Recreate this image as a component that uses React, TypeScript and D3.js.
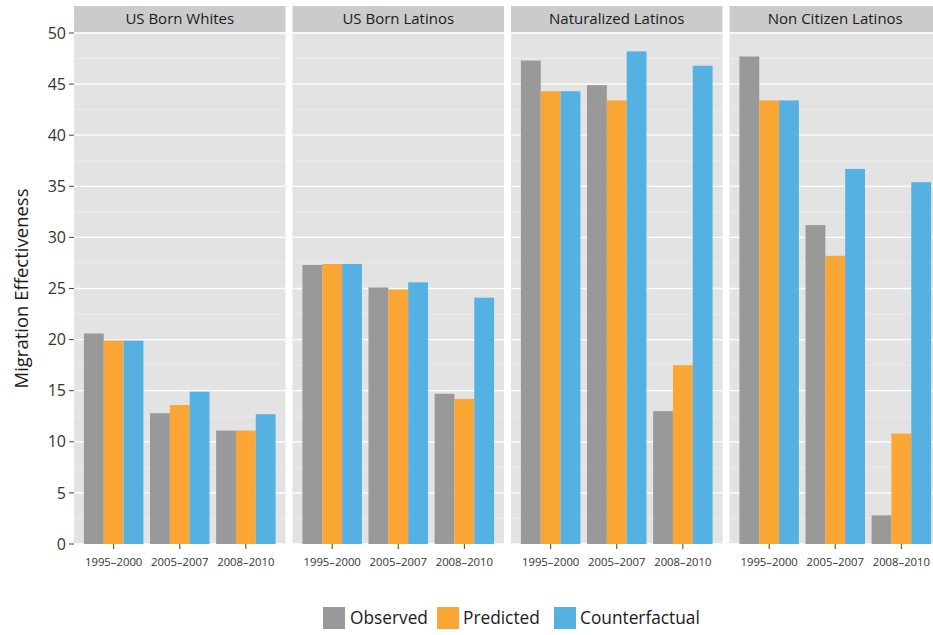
import React from "react";
import * as d3 from "d3";

const groups = ["US Born Whites", "US Born Latinos", "Naturalized Latinos", "Non Citizen Latinos"];
const periods = ["1995–2000", "2005–2007", "2008–2010"];
const seriesNames = ["Observed", "Predicted", "Counterfactual"];
const observed = [
  [20.6, 12.8, 11.1],
  [27.3, 25.1, 14.7],
  [47.3, 44.9, 13.0],
  [47.7, 31.2, 2.8],
];
const predicted = [
  [19.9, 13.6, 11.1],
  [27.4, 24.9, 14.2],
  [44.3, 43.4, 17.5],
  [43.4, 28.2, 10.8],
];
const counterfactual = [
  [19.9, 14.9, 12.7],
  [27.4, 25.6, 24.1],
  [44.3, 48.2, 46.8],
  [43.4, 36.7, 35.4],
];
const yTicks = [0, 5, 10, 15, 20, 25, 30, 35, 40, 45, 50];
const yMinor = [2.5, 7.5, 12.5, 17.5, 22.5, 27.5, 32.5, 37.5, 42.5, 47.5];

const colors = ["#999999", "#FAA634", "#56B1E3"];
const FONT = "'Open Sans', 'Noto Sans', sans-serif";

export default function App() {
  const W = 933, H = 635;
  const left = 74, panelW = 211.5, gap = 7;
  const right = left + panelW * 4 + gap * 3;
  const panelTop = 32, stripTop = 6, bottom = 544;

  const fx = d3.scaleBand<string>().domain(groups).range([left, right]).paddingInner(gap / (panelW + gap)).paddingOuter(0);
  const x = d3.scaleBand<string>().domain(periods).range([0, fx.bandwidth()]).paddingInner(0.1).paddingOuter(0.15);
  const xs = d3.scaleBand<string>().domain(seriesNames).range([0, x.bandwidth()]).padding(0);
  const y = d3.scaleLinear().domain([0, 50]).range([bottom, 33]);
  const allSeries = [observed, predicted, counterfactual];

  const legendItems = [
    { name: "Observed", sx: 323, tx: 350 },
    { name: "Predicted", sx: 437, tx: 463 },
    { name: "Counterfactual", sx: 554, tx: 580 },
  ];

  return (
    <svg width={W} height={H} style={{ position: "absolute", left: 0, top: 0, background: "#fff" }} fontFamily={FONT}>
      {groups.map((g, gi) => {
        const px = fx(g)!;
        return (
          <g key={g}>
            <rect x={px} y={stripTop} width={fx.bandwidth()} height={panelTop - stripTop} fill="#CBCBCB" />
            <text x={px + fx.bandwidth() / 2} y={(stripTop + panelTop) / 2} dy="0.35em" textAnchor="middle" fontSize={15} fill="#1a1a1a">
              {g}
            </text>
            <rect x={px} y={panelTop} width={fx.bandwidth()} height={bottom - panelTop} fill="#E3E3E3" />
            {yMinor.map((t) => (
              <line key={"m" + t} x1={px} x2={px + fx.bandwidth()} y1={y(t)} y2={y(t)} stroke="#F2F2F2" strokeWidth={0.6} />
            ))}
            {yTicks.map((t) => (
              <line key={"M" + t} x1={px} x2={px + fx.bandwidth()} y1={y(t)} y2={y(t)} stroke="#FFFFFF" strokeWidth={1.3} />
            ))}
            {periods.map((p, pi) => (
              <g key={p} transform={`translate(${px + x(p)!},0)`}>
                {seriesNames.map((s, si) => {
                  const v = allSeries[si][gi][pi];
                  return (
                    <rect key={s} x={xs(s)!} y={y(v)} width={xs.bandwidth()} height={y(0) - y(v)} fill={colors[si]} />
                  );
                })}
              </g>
            ))}
            {periods.map((p) => {
              const cx = px + x(p)! + x.bandwidth() / 2;
              return (
                <g key={"t" + p}>
                  <line x1={cx} x2={cx} y1={bottom} y2={bottom + 5} stroke="#444" strokeWidth={1} />
                  <text x={cx} y={bottom + 22} textAnchor="middle" fontSize={11.3} fill="#333">
                    {p}
                  </text>
                </g>
              );
            })}
          </g>
        );
      })}
      {yTicks.map((t) => (
        <g key={"yt" + t}>
          <line x1={left - 5} x2={left} y1={y(t)} y2={y(t)} stroke="#444" strokeWidth={1} />
          <text x={left - 8} y={y(t)} dy="0.35em" textAnchor="end" fontSize={16} fill="#333">
            {t}
          </text>
        </g>
      ))}
      <text transform={`translate(22,${(33 + bottom) / 2}) rotate(-90)`} textAnchor="middle" dy="0.35em" fontSize={18.5} fill="#1a1a1a">
        Migration Effectiveness
      </text>
      {legendItems.map((it, i) => (
        <g key={it.name}>
          <rect x={it.sx} y={607} width={22} height={22} fill={colors[i]} />
          <text x={it.tx} y={618} dy="0.35em" fontSize={17.3} fill="#1a1a1a">
            {it.name}
          </text>
        </g>
      ))}
    </svg>
  );
}
